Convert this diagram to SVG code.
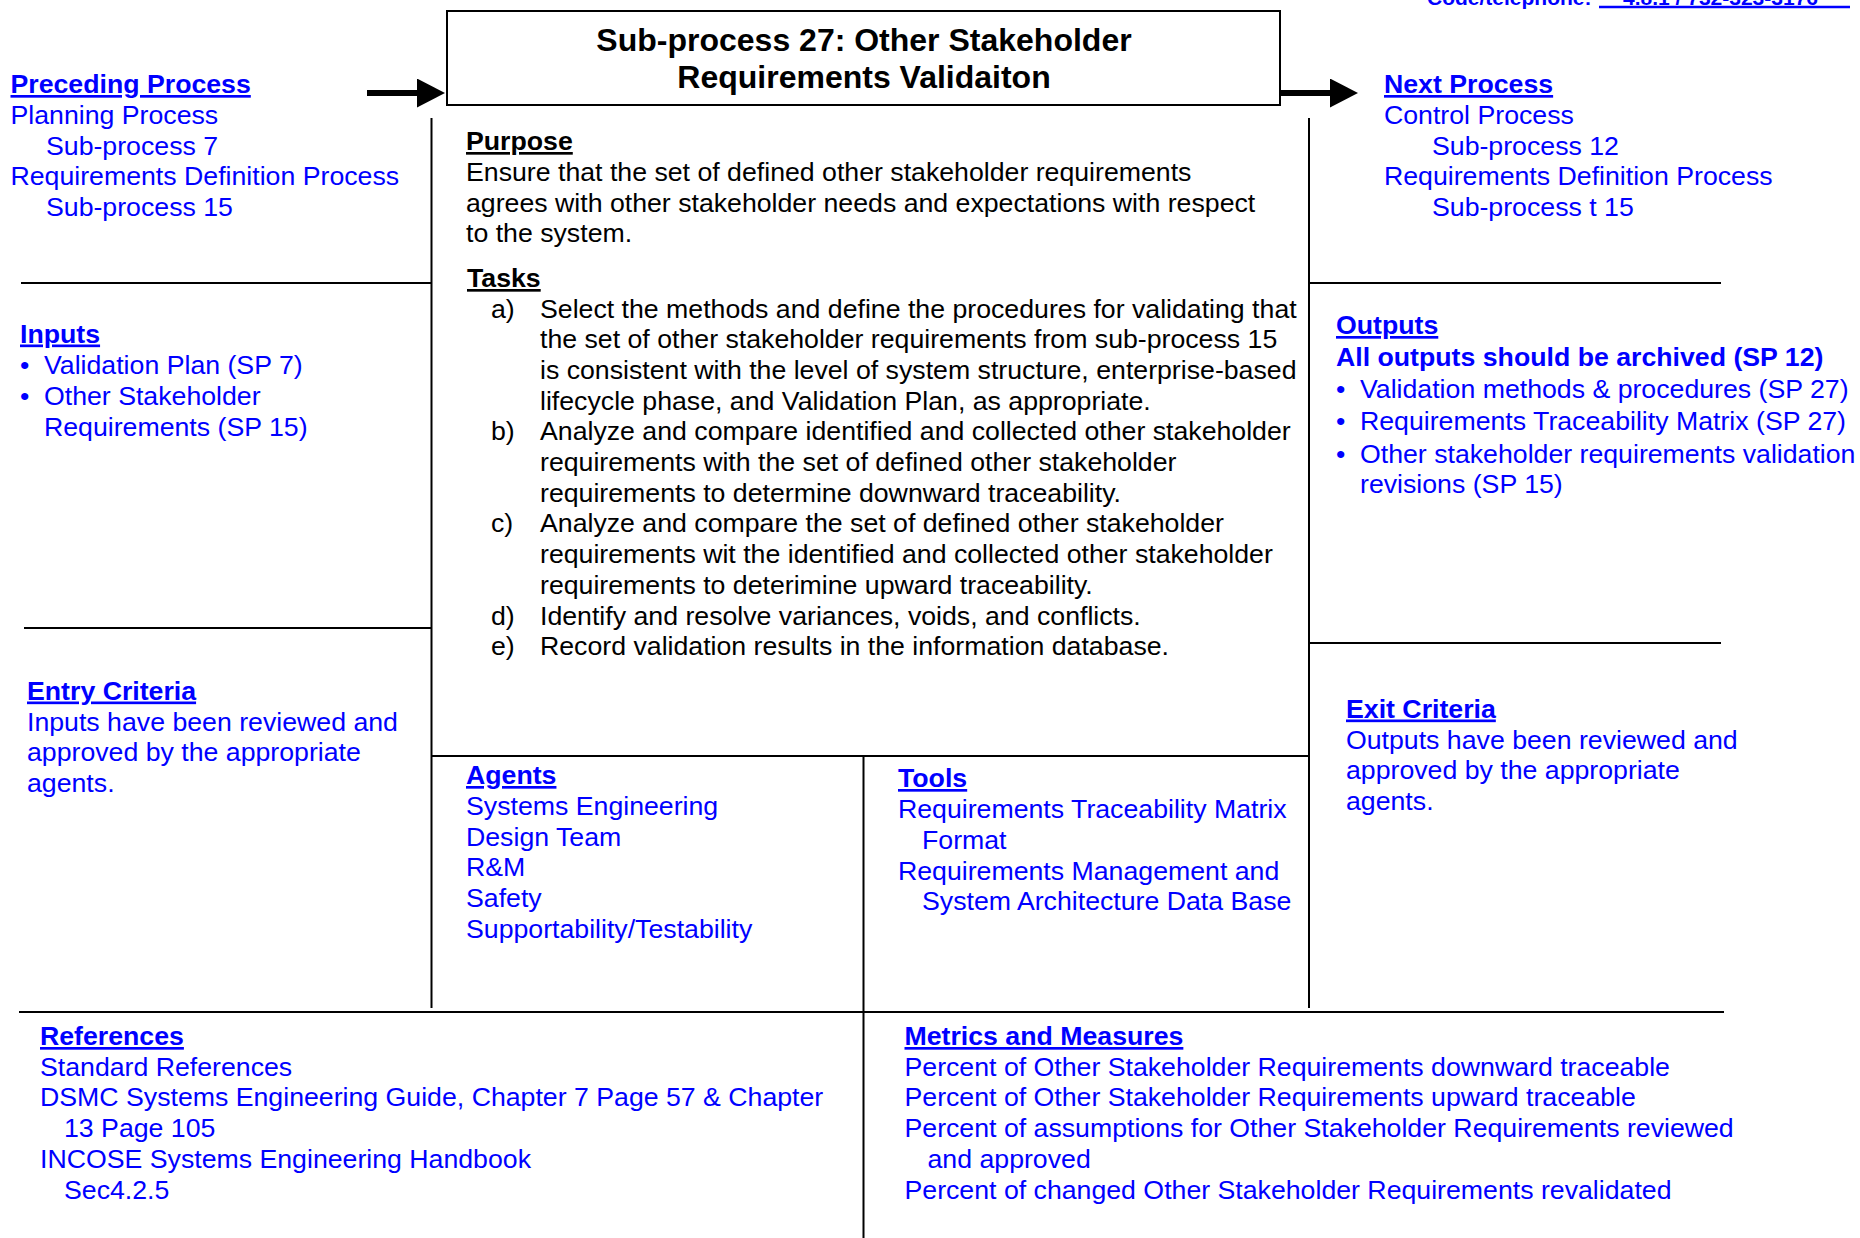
<svg xmlns="http://www.w3.org/2000/svg" width="1860" height="1238" viewBox="0 0 1860 1238">
<style>
text { font-family: "Liberation Sans", Arial, sans-serif; font-size: 26.7px; fill: #0000ff; }
.k { fill: #000000; }
.b { font-weight: bold; }
.u { text-decoration: underline; }
.title { font-size: 32px; font-weight: bold; fill: #000000; text-anchor: middle; }
.code { font-size: 21px; font-weight: bold; }
.rule { stroke: #000000; stroke-width: 2; fill: none; }
.shaft { stroke: #000000; stroke-width: 6; fill: none; }
</style>
<defs>
<marker id="head" markerUnits="userSpaceOnUse" markerWidth="29" markerHeight="30" refX="0" refY="14.5" orient="auto" viewBox="0 0 29 30">
<path d="M0,0 L28,14.5 L0,29 Z" fill="#000000"/>
</marker>
</defs>
<rect width="1860" height="1238" fill="#ffffff"/>

<g id="code-telephone">
<text class="code" x="1427" y="4.5">Code/telephone:</text>
<text class="code" x="1623" y="4.5">4.8.1 / 732-323-3176</text>
<line x1="1599" y1="7" x2="1850" y2="7" stroke="#0000ff" stroke-width="2.5"/>
</g>

<g id="grid">
<line class="rule" x1="21" y1="283" x2="431.5" y2="283"/>
<line class="rule" x1="24" y1="628" x2="431.5" y2="628"/>
<line class="rule" x1="1309" y1="283" x2="1721" y2="283"/>
<line class="rule" x1="1309" y1="643" x2="1721" y2="643"/>
<line class="rule" x1="431.5" y1="756" x2="1309" y2="756"/>
<line class="rule" x1="19" y1="1012" x2="1724" y2="1012"/>
<line class="rule" x1="431.5" y1="118" x2="431.5" y2="1008"/>
<line class="rule" x1="1309" y1="118" x2="1309" y2="1008"/>
<line class="rule" x1="863.5" y1="756" x2="863.5" y2="1238"/>
</g>

<g id="title">
<rect x="447" y="11" width="833" height="94" fill="#ffffff" stroke="#000000" stroke-width="2"/>
<text class="title" x="864" y="50.5">Sub-process 27: Other Stakeholder</text>
<text class="title" x="864" y="88">Requirements Validaiton</text>
</g>

<g id="connectors">
<line class="shaft" x1="367" y1="93" x2="417" y2="93" marker-end="url(#head)"/>
<line class="shaft" x1="1281" y1="93" x2="1330" y2="93" marker-end="url(#head)"/>
</g>

<g id="preceding-process">
<text class="b u" x="10.5" y="93">Preceding Process</text>
<text x="10.5" y="124">Planning Process</text>
<text x="46" y="154.5">Sub-process 7</text>
<text x="10.5" y="185">Requirements Definition Process</text>
<text x="46" y="215.5">Sub-process 15</text>
</g>

<g id="inputs">
<text class="b u" x="20" y="342.5">Inputs</text>
<text x="20" y="374">•</text>
<text x="44" y="374">Validation Plan (SP 7)</text>
<text x="20" y="405">•</text>
<text x="44" y="405">Other Stakeholder</text>
<text x="44" y="435.5">Requirements (SP 15)</text>
</g>

<g id="entry-criteria">
<text class="b u" x="27" y="699.5">Entry Criteria</text>
<text x="27" y="730.5">Inputs have been reviewed and</text>
<text x="27" y="761">approved by the appropriate</text>
<text x="27" y="791.5">agents.</text>
</g>

<g id="purpose-tasks">
<text class="k b u" x="466" y="150">Purpose</text>
<text class="k" x="466" y="181">Ensure that the set of defined other stakeholder requirements</text>
<text class="k" x="466" y="211.5">agrees with other stakeholder needs and expectations with respect</text>
<text class="k" x="466" y="242">to the system.</text>
<text class="k b u" x="467" y="287">Tasks</text>
<text class="k" x="491" y="317.5">a)</text>
<text class="k" x="540" y="317.5">Select the methods and define the procedures for validating that</text>
<text class="k" x="540" y="348.2">the set of other stakeholder requirements from sub-process 15</text>
<text class="k" x="540" y="378.9">is consistent with the level of system structure, enterprise-based</text>
<text class="k" x="540" y="409.6">lifecycle phase, and Validation Plan, as appropriate.</text>
<text class="k" x="491" y="440.3">b)</text>
<text class="k" x="540" y="440.3">Analyze and compare identified and collected other stakeholder</text>
<text class="k" x="540" y="471">requirements with the set of defined other stakeholder</text>
<text class="k" x="540" y="501.7">requirements to determine downward traceability.</text>
<text class="k" x="491" y="532.4">c)</text>
<text class="k" x="540" y="532.4">Analyze and compare the set of defined other stakeholder</text>
<text class="k" x="540" y="563.1">requirements wit the identified and collected other stakeholder</text>
<text class="k" x="540" y="593.8">requirements to deterimine upward traceability.</text>
<text class="k" x="491" y="624.5">d)</text>
<text class="k" x="540" y="624.5">Identify and resolve variances, voids, and conflicts.</text>
<text class="k" x="491" y="655.2">e)</text>
<text class="k" x="540" y="655.2">Record validation results in the information database.</text>
</g>

<g id="agents">
<text class="b u" x="466" y="784">Agents</text>
<text x="466" y="815">Systems Engineering</text>
<text x="466" y="845.5">Design Team</text>
<text x="466" y="876">R&amp;M</text>
<text x="466" y="906.8">Safety</text>
<text x="466" y="937.5">Supportability/Testability</text>
</g>

<g id="tools">
<text class="b u" x="898" y="787">Tools</text>
<text x="898" y="818">Requirements Traceability Matrix</text>
<text x="922" y="848.5">Format</text>
<text x="898" y="879.5">Requirements Management and</text>
<text x="922" y="910">System Architecture Data Base</text>
</g>

<g id="next-process">
<text class="b u" x="1384" y="93">Next Process</text>
<text x="1384" y="124">Control Process</text>
<text x="1432" y="154.5">Sub-process 12</text>
<text x="1384" y="185">Requirements Definition Process</text>
<text x="1432" y="215.5">Sub-process t 15</text>
</g>

<g id="outputs">
<text class="b u" x="1336" y="334">Outputs</text>
<text class="b" x="1336" y="365.5">All outputs should be archived (SP 12)</text>
<text x="1336" y="398">•</text>
<text x="1360" y="398">Validation methods &amp; procedures (SP 27)</text>
<text x="1336" y="430">•</text>
<text x="1360" y="430">Requirements Traceability Matrix (SP 27)</text>
<text x="1336" y="462.5">•</text>
<text x="1360" y="462.5">Other stakeholder requirements validation</text>
<text x="1360" y="493">revisions (SP 15)</text>
</g>

<g id="exit-criteria">
<text class="b u" x="1346" y="717.5">Exit Criteria</text>
<text x="1346" y="748.5">Outputs have been reviewed and</text>
<text x="1346" y="779">approved by the appropriate</text>
<text x="1346" y="809.5">agents.</text>
</g>

<g id="references">
<text class="b u" x="40" y="1045">References</text>
<text x="40" y="1075.7">Standard References</text>
<text x="40" y="1106.4">DSMC Systems Engineering Guide, Chapter 7 Page 57 &amp; Chapter</text>
<text x="64" y="1137">13 Page 105</text>
<text x="40" y="1167.8">INCOSE Systems Engineering Handbook</text>
<text x="64" y="1198.5">Sec4.2.5</text>
</g>

<g id="metrics">
<text class="b u" x="904.5" y="1045">Metrics and Measures</text>
<text x="904.5" y="1075.7">Percent of Other Stakeholder Requirements downward traceable</text>
<text x="904.5" y="1106.4">Percent of Other Stakeholder Requirements upward traceable</text>
<text x="904.5" y="1137">Percent of assumptions for Other Stakeholder Requirements reviewed</text>
<text x="927.5" y="1167.8">and approved</text>
<text x="904.5" y="1198.5">Percent of changed Other Stakeholder Requirements revalidated</text>
</g>
</svg>
